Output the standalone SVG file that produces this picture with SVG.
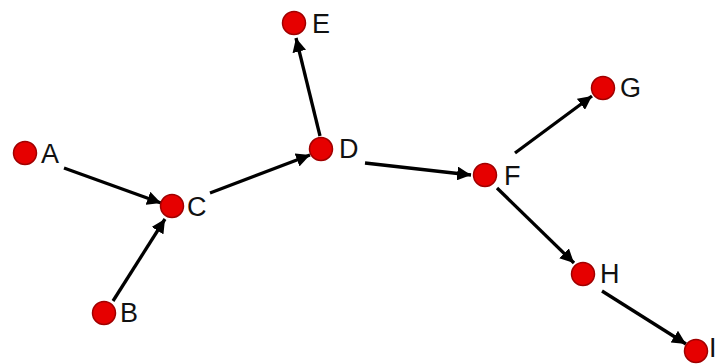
<svg xmlns="http://www.w3.org/2000/svg" width="720" height="364" viewBox="0 0 720 364">
<defs>
<marker id="arr" viewBox="0 0 10 10" refX="10" refY="5" markerWidth="4.2" markerHeight="4.2" orient="auto" markerUnits="strokeWidth">
<path d="M0,0 L10,5 L0,10 z" fill="#000"/>
</marker>
<style>
.n{fill:#e60000;stroke:#a00000;stroke-width:1.5}
.t{font-family:"Liberation Sans",Arial,sans-serif;font-size:27px;fill:#111}
.e{stroke:#000;stroke-width:3.3;fill:none;marker-end:url(#arr)}
</style>
</defs>
<rect width="720" height="364" fill="#fff"/>
<g id="edges">
<line class="e" x1="64" y1="168" x2="161" y2="203"/>
<line class="e" x1="113" y1="301" x2="165" y2="219"/>
<line class="e" x1="210" y1="193" x2="310" y2="155"/>
<line class="e" x1="320" y1="136" x2="296" y2="38"/>
<line class="e" x1="365" y1="163" x2="471" y2="175"/>
<line class="e" x1="515" y1="153" x2="592" y2="96"/>
<line class="e" x1="497" y1="188" x2="574" y2="263"/>
<line class="e" x1="602" y1="291" x2="686" y2="344"/>
</g>
<g id="A"><circle class="n" cx="25" cy="153" r="11.5"/><text class="t" x="41" y="163">A</text></g>
<g id="B"><circle class="n" cx="104" cy="313" r="11.5"/><text class="t" x="120" y="322">B</text></g>
<g id="C"><circle class="n" cx="172" cy="206" r="11.5"/><text class="t" x="187" y="216">C</text></g>
<g id="D"><circle class="n" cx="321" cy="149" r="11.5"/><text class="t" x="339" y="158">D</text></g>
<g id="E"><circle class="n" cx="294" cy="23" r="11.5"/><text class="t" x="312" y="33">E</text></g>
<g id="F"><circle class="n" cx="485" cy="175" r="11.5"/><text class="t" x="504" y="185">F</text></g>
<g id="G"><circle class="n" cx="603" cy="88" r="11.5"/><text class="t" x="620" y="97">G</text></g>
<g id="H"><circle class="n" cx="583" cy="274" r="11.5"/><text class="t" x="600" y="283">H</text></g>
<g id="I"><circle class="n" cx="696" cy="351" r="11.5"/><text class="t" x="709" y="357">I</text></g>
</svg>
